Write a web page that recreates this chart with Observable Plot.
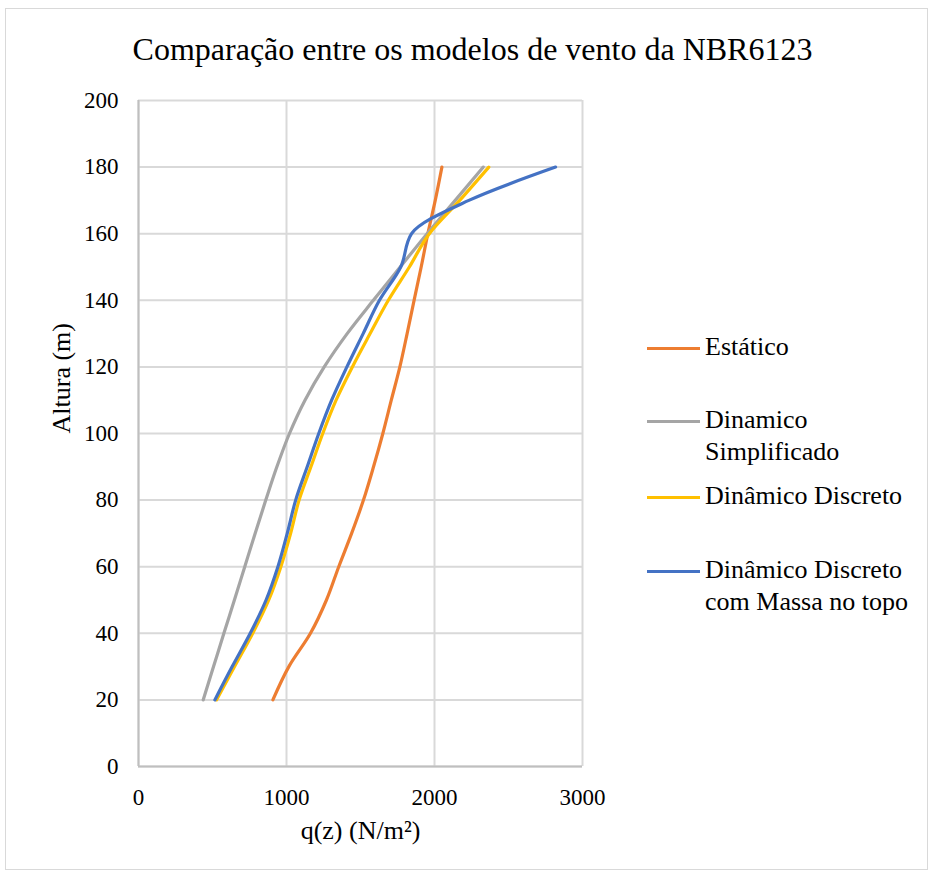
<!DOCTYPE html>
<html>
<head>
<meta charset="utf-8">
<script src="https://cdn.jsdelivr.net/npm/d3@7"></script>
<script src="https://cdn.jsdelivr.net/npm/@observablehq/plot@0.6"></script>
<style>
  html, body { margin: 0; padding: 0; background: #fff; }
  #wrap { position: relative; width: 928px; height: 873px; font-family: "Liberation Serif", "Times New Roman", serif; color: #000; }
  #border { position: absolute; left: 5px; top: 8px; width: 923px; height: 862px; border: 1px solid #d9d9d9; box-sizing: border-box; }
  #title { position: absolute; left: 0; width: 945px; top: 31px; text-align: center; font-size: 32px; line-height: 36px; white-space: nowrap; }
  #chart { position: absolute; left: 0; top: 0; }
  .leg { position: absolute; left: 705px; font-size: 26px; line-height: 32px; white-space: nowrap; }
  .sw { position: absolute; left: 647px; width: 53px; height: 3px; }
</style>
</head>
<body>
<div id="wrap">
  <div id="border"></div>
  <div id="chart"></div>
  <div id="title">Comparação entre os modelos de vento da NBR6123</div>
  <div id="legend"></div>
</div>
<script>
// Heights (m)
const alturas = [20, 30, 40, 50, 60, 70, 80, 90, 100, 110, 120, 130, 140, 150, 160, 170, 180];
// q(z) (N/m²) per model
const estatico        = [908, 1016, 1162, 1270, 1353, 1440, 1520, 1588, 1651, 1708, 1766, 1815, 1862, 1910, 1955, 2005, 2050];
const dinSimplificado = [437, 507, 577, 648, 718, 788, 860, 935, 1020, 1125, 1255, 1410, 1587, 1768, 1950, 2140, 2329];
const dinDiscreto     = [527, 649, 772, 880, 962, 1028, 1085, 1165, 1245, 1335, 1445, 1565, 1688, 1830, 1965, 2170, 2367];
const dinMassaTopo    = [516, 633, 755, 862, 942, 1005, 1062, 1140, 1218, 1305, 1408, 1518, 1628, 1772, 1845, 2232, 2818];

const seriesNames = ["Estático", "Dinamico Simplificado", "Dinâmico Discreto", "Dinâmico Discreto com Massa no topo"];
const seriesLegend = [["Estático"], ["Dinamico", "Simplificado"], ["Dinâmico Discreto"], ["Dinâmico Discreto", "com Massa no topo"]];
const seriesColors = ["#ED7D31", "#A5A5A5", "#FFC000", "#4472C4"];
const seriesValues = [estatico, dinSimplificado, dinDiscreto, dinMassaTopo];

const xTicks = [0, 1000, 2000, 3000];
const yTicks = [0, 20, 40, 60, 80, 100, 120, 140, 160, 180, 200];

const data = [];
seriesNames.forEach((name, i) => {
  alturas.forEach((z, j) => data.push({serie: name, z, q: seriesValues[i][j]}));
});

const plot = Plot.plot({
  width: 928,
  height: 873,
  marginLeft: 138,
  marginRight: 346,
  marginTop: 100,
  marginBottom: 107,
  style: {fontFamily: "Liberation Serif, Times New Roman, serif", fontSize: "23px", background: "transparent", color: "#000"},
  x: {domain: [0, 3000], ticks: xTicks, tickFormat: d => String(d)},
  y: {domain: [0, 200], ticks: yTicks, tickFormat: d => String(d)},
  marks: [
    Plot.gridX(xTicks, {stroke: "#d9d9d9", strokeOpacity: 1, strokeWidth: 2}),
    Plot.gridY(yTicks, {stroke: "#d9d9d9", strokeOpacity: 1, strokeWidth: 2}),
    Plot.ruleX([0], {stroke: "#bfbfbf", strokeWidth: 2}),
    Plot.ruleY([0], {stroke: "#bfbfbf", strokeWidth: 2}),
    Plot.axisX(xTicks, {tickSize: 0, tickPadding: 22, fontSize: 23, label: null, tickFormat: d => String(d)}),
    Plot.axisY(yTicks, {tickSize: 0, tickPadding: 20, fontSize: 23, label: null, tickFormat: d => String(d)}),
    Plot.text(["Altura (m)"], {frameAnchor: "left", dx: -77, rotate: -90, fontSize: 26, fill: "#000"}),
    Plot.text(["q(z) (N/m²)"], {frameAnchor: "bottom", dy: 72, fontSize: 26, fill: "#000"}),
    ...seriesNames.map((name, i) =>
      Plot.line(data.filter(d => d.serie === name), {x: "q", y: "z", stroke: seriesColors[i], strokeWidth: 3.2, curve: "monotone-y", strokeLinecap: "round"})
    )
  ]
});
document.getElementById("chart").appendChild(plot);

// Legend (HTML)
const legendTops = [348, 421, 497, 571]; // centre of first text line
const legend = document.getElementById("legend");
seriesLegend.forEach((lines, i) => {
  const sw = document.createElement("div");
  sw.className = "sw";
  sw.style.top = (legendTops[i] - 1.5) + "px";
  sw.style.background = seriesColors[i];
  legend.appendChild(sw);
  const t = document.createElement("div");
  t.className = "leg";
  t.style.top = (legendTops[i] - 17) + "px";
  t.innerHTML = lines.join("<br>");
  legend.appendChild(t);
});
</script>
</body>
</html>
